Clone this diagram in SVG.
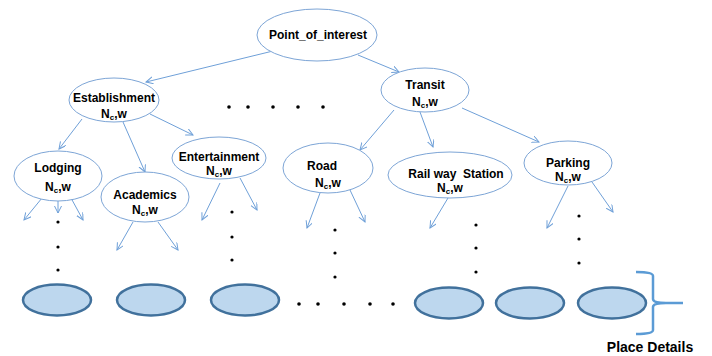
<svg xmlns="http://www.w3.org/2000/svg" width="712" height="356" viewBox="0 0 712 356">
<style>
.node{fill:#fff;stroke:#7da5d6;stroke-width:1}
.leaf{fill:#bdd7ee;stroke:#41719c;stroke-width:2.5}
.t{font-family:"Liberation Sans",Arial,sans-serif;font-weight:bold;font-size:12px;fill:#000;text-anchor:middle}
.sub{font-size:8px}
.c line{stroke:#6fa0d8;stroke-width:1;marker-end:url(#ah)}
.dot{fill:#000}
</style>
<defs>
<marker id="ah" markerWidth="8" markerHeight="8" refX="7" refY="3.5" orient="auto" markerUnits="userSpaceOnUse">
<path d="M0,0 L7,3.5 L0,7" fill="none" stroke="#6fa0d8" stroke-width="1"/>
</marker>
</defs>
<rect width="712" height="356" fill="#fff"/>
<g id="connectors" class="c">
<line x1="273" y1="51" x2="146" y2="82"/>
<line x1="358" y1="55" x2="399" y2="72"/>
<line x1="82" y1="119" x2="59" y2="149"/>
<line x1="123" y1="122" x2="145" y2="172"/>
<line x1="150" y1="114" x2="193" y2="135"/>
<line x1="42" y1="198" x2="24" y2="220"/>
<line x1="58" y1="200" x2="58" y2="213"/>
<line x1="71" y1="198" x2="83" y2="220"/>
<line x1="133" y1="222" x2="117" y2="250"/>
<line x1="158" y1="222" x2="178" y2="250"/>
<line x1="220" y1="183" x2="202" y2="220"/>
<line x1="240" y1="178" x2="257" y2="210"/>
<line x1="394" y1="110" x2="360" y2="150"/>
<line x1="420" y1="112" x2="433" y2="147"/>
<line x1="462" y1="108" x2="539" y2="142"/>
<line x1="320" y1="193" x2="307" y2="228"/>
<line x1="350" y1="190" x2="365" y2="222"/>
<line x1="448" y1="198" x2="430" y2="228"/>
<line x1="568" y1="186" x2="547" y2="228"/>
<line x1="592" y1="182" x2="613" y2="212"/>
</g>
<g id="poi"><ellipse class="node" cx="317" cy="35" rx="60" ry="26"/><text class="t" x="318" y="39">Point_of_interest</text></g>
<g id="establishment"><ellipse class="node" cx="114" cy="100" rx="45" ry="22"/><text class="t" x="114" y="102">Establishment</text><text class="t" x="114" y="118">N<tspan class="sub" dy="2">c</tspan><tspan dy="-2">,w</tspan></text></g>
<g id="transit"><ellipse class="node" cx="425" cy="90" rx="44" ry="22"/><text class="t" x="425" y="89">Transit</text><text class="t" x="425" y="106">N<tspan class="sub" dy="2">c</tspan><tspan dy="-2">,w</tspan></text></g>
<g id="lodging"><ellipse class="node" cx="58" cy="176" rx="44" ry="25"/><text class="t" x="58" y="172">Lodging</text><text class="t" x="58" y="191">N<tspan class="sub" dy="2">c</tspan><tspan dy="-2">,w</tspan></text></g>
<g id="academics"><ellipse class="node" cx="145" cy="197" rx="44" ry="25"/><text class="t" x="145" y="199">Academics</text><text class="t" x="145" y="214">N<tspan class="sub" dy="2">c</tspan><tspan dy="-2">,w</tspan></text></g>
<g id="entertainment"><ellipse class="node" cx="219" cy="158" rx="47" ry="21"/><text class="t" x="219" y="161">Entertainment</text><text class="t" x="219" y="175">N<tspan class="sub" dy="2">c</tspan><tspan dy="-2">,w</tspan></text></g>
<g id="road"><ellipse class="node" cx="328" cy="168" rx="45" ry="25"/><text class="t" x="322" y="170">Road</text><text class="t" x="328" y="187">N<tspan class="sub" dy="2">c</tspan><tspan dy="-2">,w</tspan></text></g>
<g id="railway"><ellipse class="node" cx="450" cy="175" rx="62" ry="23"/><text class="t" x="456" y="178" xml:space="preserve" style="white-space:pre">Rail way  Station</text><text class="t" x="450" y="192">N<tspan class="sub" dy="2">c</tspan><tspan dy="-2">,w</tspan></text></g>
<g id="parking"><ellipse class="node" cx="568" cy="163" rx="44" ry="22"/><text class="t" x="568" y="167">Parking</text><text class="t" x="568" y="181">N<tspan class="sub" dy="2">c</tspan><tspan dy="-2">,w</tspan></text></g>
<g id="dots" class="dot">
<circle cx="229" cy="107" r="1.8"/><circle cx="248" cy="107" r="1.8"/><circle cx="273" cy="107" r="1.8"/><circle cx="298" cy="107" r="1.8"/><circle cx="323" cy="107" r="1.8"/>
<circle cx="58" cy="222" r="1.6"/><circle cx="58" cy="247" r="1.6"/><circle cx="58" cy="270" r="1.6"/>
<circle cx="232" cy="212" r="1.6"/><circle cx="232" cy="237" r="1.6"/><circle cx="232" cy="260" r="1.6"/>
<circle cx="335" cy="230" r="1.6"/><circle cx="335" cy="253" r="1.6"/><circle cx="335" cy="277" r="1.6"/>
<circle cx="476" cy="225" r="1.6"/><circle cx="476" cy="248" r="1.6"/><circle cx="476" cy="272" r="1.6"/>
<circle cx="579" cy="216" r="1.6"/><circle cx="579" cy="239" r="1.6"/><circle cx="579" cy="263" r="1.6"/>
<circle cx="299" cy="304" r="1.8"/><circle cx="318" cy="304" r="1.8"/><circle cx="344" cy="304" r="1.8"/><circle cx="370" cy="304" r="1.8"/><circle cx="393" cy="304" r="1.8"/>
</g>
<g id="place1"><ellipse class="leaf" cx="57" cy="300" rx="34" ry="15.5"/></g>
<g id="place2"><ellipse class="leaf" cx="151" cy="300" rx="34" ry="15.5"/></g>
<g id="place3"><ellipse class="leaf" cx="245" cy="300" rx="34" ry="15.5"/></g>
<g id="place4"><ellipse class="leaf" cx="449" cy="303" rx="34" ry="15.5"/></g>
<g id="place5"><ellipse class="leaf" cx="530" cy="303" rx="34" ry="15.5"/></g>
<g id="place6"><ellipse class="leaf" cx="612" cy="303" rx="34" ry="15.5"/></g>
<g id="brace">
<path d="M636,272 Q653,272 653,276 L653,299 Q653,303 666,303 L683,303 M666,303 Q653,303 653,307 L653,330 Q653,334 636,334" fill="none" stroke="#5b9bd5" stroke-width="2.5"/>
<text x="650" y="352" font-family="Liberation Sans,Arial,sans-serif" font-weight="bold" font-size="14" text-anchor="middle" fill="#000">Place Details</text>
</g>
</svg>
